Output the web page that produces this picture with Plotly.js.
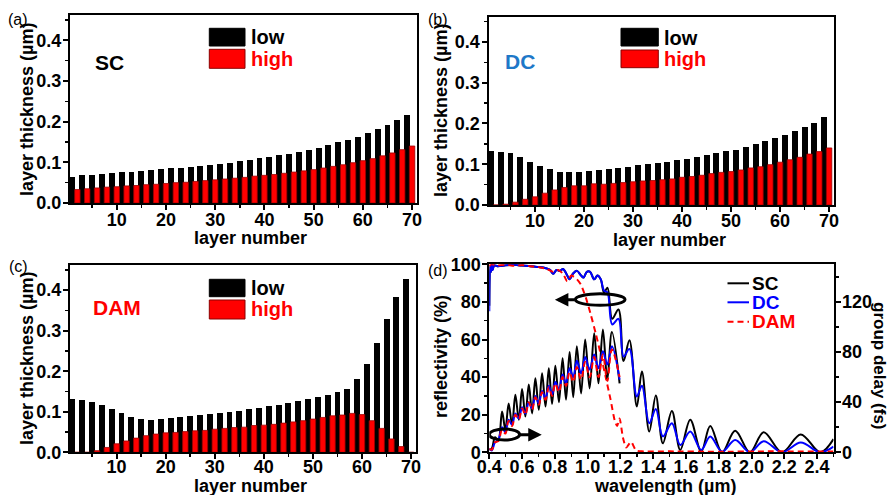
<!DOCTYPE html>
<html>
<head>
<meta charset="utf-8">
<script src="https://cdn.plot.ly/plotly-3.0.1.min.js"></script>
<style>
  html, body { margin: 0; padding: 0; background: #fff; }
  #chart { width: 890px; height: 495px; }
</style>
</head>
<body>
<div id="chart"></div>
<script>
// ---- layer thickness data (µm) ----
const lowLayers = [1,3,5,7,9,11,13,15,17,19,21,23,25,27,29,31,33,35,37,39,41,43,45,47,49,51,53,55,57,59,61,63,65,67,69];
const highLayers = [2,4,6,8,10,12,14,16,18,20,22,24,26,28,30,32,34,36,38,40,42,44,46,48,50,52,54,56,58,60,62,64,66,68,70];

const scLow = [0.065,0.068,0.070,0.072,0.073,0.075,0.077,0.079,0.081,0.083,0.085,0.087,0.089,0.091,0.094,0.096,0.099,0.103,0.106,0.110,0.114,0.117,0.121,0.126,0.131,0.136,0.142,0.149,0.156,0.163,0.172,0.181,0.191,0.203,0.216];
const scHigh = [0.033,0.035,0.037,0.039,0.040,0.042,0.043,0.045,0.046,0.048,0.050,0.051,0.053,0.055,0.057,0.059,0.061,0.063,0.066,0.068,0.070,0.073,0.076,0.079,0.082,0.086,0.090,0.094,0.099,0.104,0.109,0.116,0.123,0.131,0.140];

const dcLow = [0.133,0.131,0.127,0.117,0.106,0.096,0.088,0.082,0.080,0.082,0.084,0.085,0.088,0.091,0.094,0.097,0.100,0.103,0.106,0.110,0.114,0.118,0.122,0.127,0.132,0.136,0.143,0.149,0.156,0.164,0.172,0.181,0.191,0.202,0.216];
const dcHigh = [0.000,0.002,0.007,0.014,0.020,0.029,0.037,0.043,0.047,0.047,0.052,0.051,0.053,0.055,0.057,0.059,0.060,0.062,0.064,0.068,0.070,0.073,0.077,0.080,0.082,0.086,0.091,0.094,0.099,0.105,0.111,0.117,0.125,0.131,0.140];

const damLow = [0.131,0.130,0.125,0.117,0.108,0.098,0.087,0.082,0.080,0.082,0.084,0.086,0.089,0.091,0.094,0.097,0.100,0.103,0.107,0.109,0.114,0.117,0.122,0.126,0.131,0.137,0.141,0.149,0.157,0.182,0.218,0.270,0.329,0.382,0.427];
const damHigh = [0.000,0.000,0.004,0.012,0.021,0.028,0.035,0.041,0.045,0.048,0.049,0.051,0.053,0.054,0.057,0.059,0.061,0.062,0.066,0.067,0.069,0.072,0.075,0.078,0.082,0.086,0.090,0.092,0.096,0.093,0.078,0.059,0.033,0.014,0.000];

// ---- reflectivity (%) vs wavelength (µm) ----
const reflWl = [0.400,0.405,0.410,0.415,0.420,0.430,0.450,0.500,0.550,0.600,0.650,0.700,0.740,0.770,0.790,0.810,0.830,0.850,0.870,0.890,0.910,0.935,0.960,0.975,0.995,1.015,1.040,1.060,1.080,1.100,1.121,1.150,1.188,1.219,1.255,1.300,1.331,1.376,1.416,1.459,1.514,1.565,1.626,1.693,1.748,1.820,1.900,1.990,2.074,2.186,2.300,2.420,2.500];
const scRefl = [78,99,96,100,97,99.5,99,99.5,99.7,99.3,99,98.5,98,97,95,97,96.5,97.5,95,92,95,96.5,94,93,96,96,92,94,92,85,87.5,71,76,48.5,59.6,24.4,43,11,30.2,4.8,22,1.2,17.3,0.4,14,0,11.5,0,10.7,0,9.5,0,7];
const dcRefl = [75,99,96,100,97,99.5,99,99.5,99.7,99.3,99,98.5,98,97,95,97,96.5,97.5,95,92,95,96.5,94,93,96,96,92,94,92,86,85,68,71,51,55,29.7,35.4,15.5,23,8.4,15.5,3.9,11,1.2,8.4,0.3,6.5,0,5.9,0,5.2,0,3];
const damReflWl = [0.400,0.410,0.450,0.500,0.550,0.600,0.650,0.700,0.750,0.790,0.820,0.850,0.875,0.900,0.935,0.960,0.990,1.020,1.050,1.080,1.110,1.140,1.165,1.180,1.195,1.215,1.235,1.265,1.295,1.330,1.500,1.800,2.100,2.500];
const damRefl = [99,100,99.5,99.8,99.2,99.6,99,98.5,97.5,96,97,95,91,94,92,89,82,73,63,52,40,28,17,14,18,8,2.5,5.5,1,0.5,0.5,0.3,0.5,0.4];

// ---- group delay (fs) vs wavelength (µm) ----
const gdWl = [0.400,0.415,0.435,0.455,0.478,0.498,0.518,0.539,0.559,0.580,0.600,0.620,0.641,0.661,0.681,0.702,0.722,0.743,0.763,0.783,0.803,0.825,0.847,0.868,0.890,0.912,0.934,0.960,0.985,1.012,1.040,1.066,1.093,1.120,1.148,1.195];
const scGd = [2,3,12,9,32.5,17.8,39,22,46,26,50.5,28.5,54,31,59,34,63,36.5,67,38.7,69,40,75,42,80,44,84.6,47,90,51,95,55,98,58,96,55];
const dcGd = [3,1.5,8,10,20,16,26,22,31,27,36,31,40,35,45,39,49,43,53,46,56,50,62,55,67,60,73,63,76,66,78,67,80.6,70,84.6,58];
const damGd = [3,2,8,9,18,15,25,21,30,26,35,30,40,34,44,38,48,42,52,45,55,48,60,53,64,56,68,58,72,60,76,60,78,57,82,60];

// ---- page geometry helpers (pixel -> paper fraction) ----
const W = 890, H = 495;
const FONT = 'Liberation Sans, Arial, Helvetica, sans-serif';
const px = v => v / W;
const py = v => 1 - v / H;
const xdom = (a, b) => [px(a), px(b)];
const ydom = (top, bottom) => [py(bottom), py(top)];

const tickFont = {family: FONT, size: 18, color: '#000', weight: 'bold'};
const titleFont = {family: FONT, size: 18, color: '#000', weight: 'bold'};
const minorTicks = d => ({dtick: d, ticks: 'outside', ticklen: 3, tickwidth: 1.5, tickcolor: '#000'});

function axisBase(extra) {
  return Object.assign({
    showline: true, linewidth: 2, linecolor: '#000', mirror: true,
    ticks: 'outside', ticklen: 5, tickwidth: 2, tickcolor: '#000', ticklabelstandoff: -2,
    showgrid: false, zeroline: false, tickfont: tickFont, fixedrange: true
  }, extra);
}
function layerAxis(dom, anchor, standoff) {
  return axisBase({domain: dom, anchor: anchor, range: [0.5, 71], tick0: 0, dtick: 10,
                   ticklabelstandoff: standoff, minor: minorTicks(5)});
}
function thickAxis(dom, anchor) {
  return axisBase({domain: dom, anchor: anchor, range: [0, 0.462], tick0: 0, dtick: 0.1,
                   tickformat: '.1f', minor: minorTicks(0.05)});
}

function barPair(low, high, xa, ya) {
  return [
    {type: 'bar', x: lowLayers, y: low, width: 1.2, xaxis: xa, yaxis: ya,
     marker: {color: '#000000', line: {width: 0}}, showlegend: false, hoverinfo: 'skip'},
    {type: 'bar', x: highLayers, y: high, width: 1.1, xaxis: xa, yaxis: ya,
     marker: {color: '#ff0000', line: {color: '#9a0000', width: 0.8}}, showlegend: false, hoverinfo: 'skip'}
  ];
}

const lineOpts = (color, dash) => ({color: color, width: 2, dash: dash || 'solid', shape: 'spline', smoothing: 1});

const traces = [
  ...barPair(scLow, scHigh, 'x', 'y'),
  ...barPair(dcLow, dcHigh, 'x2', 'y2'),
  ...barPair(damLow, damHigh, 'x3', 'y3'),
  // reflectivity (left axis)
  {type: 'scatter', mode: 'lines', x: reflWl, y: scRefl, xaxis: 'x4', yaxis: 'y4', line: lineOpts('#000000'), showlegend: false, hoverinfo: 'skip'},
  {type: 'scatter', mode: 'lines', x: reflWl, y: dcRefl, xaxis: 'x4', yaxis: 'y4', line: lineOpts('#0000ff'), showlegend: false, hoverinfo: 'skip'},
  {type: 'scatter', mode: 'lines', x: damReflWl, y: damRefl, xaxis: 'x4', yaxis: 'y4', line: Object.assign(lineOpts('#ff0000', '6px,4px'), {smoothing: 0.6}), showlegend: false, hoverinfo: 'skip'},
  // group delay (right axis)
  {type: 'scatter', mode: 'lines', x: gdWl, y: scGd, xaxis: 'x4', yaxis: 'y5', line: lineOpts('#000000'), showlegend: false, hoverinfo: 'skip'},
  {type: 'scatter', mode: 'lines', x: gdWl, y: dcGd, xaxis: 'x4', yaxis: 'y5', line: lineOpts('#0000ff'), showlegend: false, hoverinfo: 'skip'},
  {type: 'scatter', mode: 'lines', x: gdWl, y: damGd, xaxis: 'x4', yaxis: 'y5', line: lineOpts('#ff0000', '6px,4px'), showlegend: false, hoverinfo: 'skip'}
];

// text labels drawn on the page
function label(text, x, y, opts) {
  return Object.assign({
    text: text, xref: 'paper', yref: 'paper', x: px(x), y: py(y),
    xanchor: 'center', yanchor: 'middle', showarrow: false,
    font: {family: FONT, size: 20, color: '#000', weight: 'bold'}
  }, opts || {});
}
const panelFont = {family: 'Liberation Sans, Arial, sans-serif', size: 16, color: '#000'};
const boldFont = (size, color) => ({family: FONT, size: size, color: color, weight: 'bold'});

const annotations = [
  label('(a)', 18, 19, {font: panelFont}),
  label('(b)', 438, 19, {font: panelFont}),
  label('(c)', 18, 266, {font: panelFont}),
  label('(d)', 438, 270, {font: panelFont}),
  // axis titles
  label('layer thickness (µm)', 27, 110, {textangle: -90, font: titleFont}),
  label('layer thickness (µm)', 441, 111, {textangle: -90, font: titleFont}),
  label('layer thickness (µm)', 27, 359, {textangle: -90, font: titleFont}),
  label('reflectivity (%)', 441, 357, {textangle: -90, font: titleFont}),
  label('group delay (fs)', 880, 366, {textangle: 90, font: boldFont(17, '#000')}),
  label('layer number', 250, 238, {font: titleFont}),
  label('layer number', 669, 240, {font: titleFont}),
  label('layer number', 250, 486, {font: titleFont}),
  label('wavelength (µm)', 665, 486, {font: titleFont}),
  // design names
  label('SC', 109, 62, {font: boldFont(21, '#000')}),
  label('DC', 520, 61, {font: boldFont(21, '#1e78c8')}),
  label('DAM', 117, 307, {font: boldFont(21, '#ff0000')}),
  // bar legends
  label('low', 249, 37, {xanchor: 'left'}),
  label('high', 249, 59, {xanchor: 'left', font: boldFont(20, '#ff0000')}),
  label('low', 662, 37.5, {xanchor: 'left'}),
  label('high', 662, 59, {xanchor: 'left', font: boldFont(20, '#ff0000')}),
  label('low', 249, 288, {xanchor: 'left'}),
  label('high', 249, 309, {xanchor: 'left', font: boldFont(20, '#ff0000')}),
  // line legend of panel (d)
  label('SC', 750, 283, {xanchor: 'left', font: boldFont(19, '#000')}),
  label('DC', 750, 302, {xanchor: 'left', font: boldFont(19, '#0000ff')}),
  label('DAM', 750, 321.5, {xanchor: 'left', font: boldFont(19, '#ff0000')}),
  // arrows marking which curves belong to which axis
  {x: 0.80, y: 81.2, ax: 0.93, ay: 81.2, xref: 'x4', yref: 'y4', axref: 'x4', ayref: 'y4',
   showarrow: true, arrowhead: 2, arrowsize: 0.9, arrowwidth: 3, arrowcolor: '#000', text: ''},
  {x: 0.72, y: 9.4, ax: 0.57, ay: 9.4, xref: 'x4', yref: 'y4', axref: 'x4', ayref: 'y4',
   showarrow: true, arrowhead: 2, arrowsize: 0.9, arrowwidth: 3, arrowcolor: '#000', text: ''}
];

function rect(x0, x1, y0, y1, fill, line) {
  return {type: 'rect', xref: 'paper', yref: 'paper', x0: px(x0), x1: px(x1), y0: py(y1), y1: py(y0),
          fillcolor: fill, line: {color: line || fill, width: 1}, layer: 'above'};
}
function seg(x0, x1, y, color, dash) {
  return {type: 'line', xref: 'paper', yref: 'paper', x0: px(x0), x1: px(x1), y0: py(y), y1: py(y),
          line: {color: color, width: 2, dash: dash || 'solid'}, layer: 'above'};
}

const shapes = [
  rect(209.3, 245, 28.3, 46, '#000000'),
  rect(209.3, 245, 49.3, 68.3, '#ff0000', '#8a0000'),
  rect(621, 658.3, 28.3, 46, '#000000'),
  rect(621, 658.3, 50, 67.7, '#ff0000', '#8a0000'),
  rect(209.3, 245, 279.3, 296.7, '#000000'),
  rect(209.3, 245, 300, 319, '#ff0000', '#8a0000'),
  seg(727.5, 749, 283.3, '#000000'),
  seg(727.5, 749, 302.3, '#0000ff'),
  seg(727.5, 749, 321.7, '#ff0000', '6px,4px'),
  // ellipses around the curve groups of panel (d)
  {type: 'circle', xref: 'x4', yref: 'y4', x0: 0.925, x1: 1.228, y0: 78.2, y1: 84.3,
   line: {color: '#000', width: 3}, layer: 'above'},
  {type: 'circle', xref: 'x4', yref: 'y4', x0: 0.40, x1: 0.585, y0: 6.5, y1: 12.4,
   line: {color: '#000', width: 3}, layer: 'above'}
];

const layout = {
  width: W, height: H,
  margin: {l: 0, r: 0, t: 0, b: 0},
  paper_bgcolor: '#ffffff', plot_bgcolor: '#ffffff',
  barmode: 'overlay', bargap: 0,
  font: {family: FONT, color: '#000'},
  showlegend: false,
  xaxis: layerAxis(xdom(70, 417), 'y', -6),
  yaxis: thickAxis(ydom(15, 203), 'x'),
  xaxis2: layerAxis(xdom(488.5, 834), 'y2', -7),
  yaxis2: thickAxis(ydom(16.7, 205), 'x2'),
  xaxis3: layerAxis(xdom(70, 416), 'y3', -8),
  yaxis3: thickAxis(ydom(265, 452.3), 'x3'),
  xaxis4: axisBase({
    domain: xdom(489.3, 833.5), anchor: 'y4', range: [0.4, 2.5], tick0: 0.4, dtick: 0.2,
    tickformat: '.1f', ticklabelstandoff: -8, minor: minorTicks(0.1)
  }),
  yaxis4: axisBase({
    domain: ydom(264.3, 452.3), anchor: 'x4', range: [0, 100], tick0: 0, dtick: 20, mirror: false,
    minor: minorTicks(10)
  }),
  yaxis5: axisBase({
    overlaying: 'y4', anchor: 'x4', side: 'right', range: [0, 150], tick0: 0, dtick: 40, mirror: false,
    minor: minorTicks(20)
  }),
  annotations: annotations,
  shapes: shapes
};

Plotly.newPlot('chart', traces, layout, {staticPlot: true, displayModeBar: false});
</script>
</body>
</html>
